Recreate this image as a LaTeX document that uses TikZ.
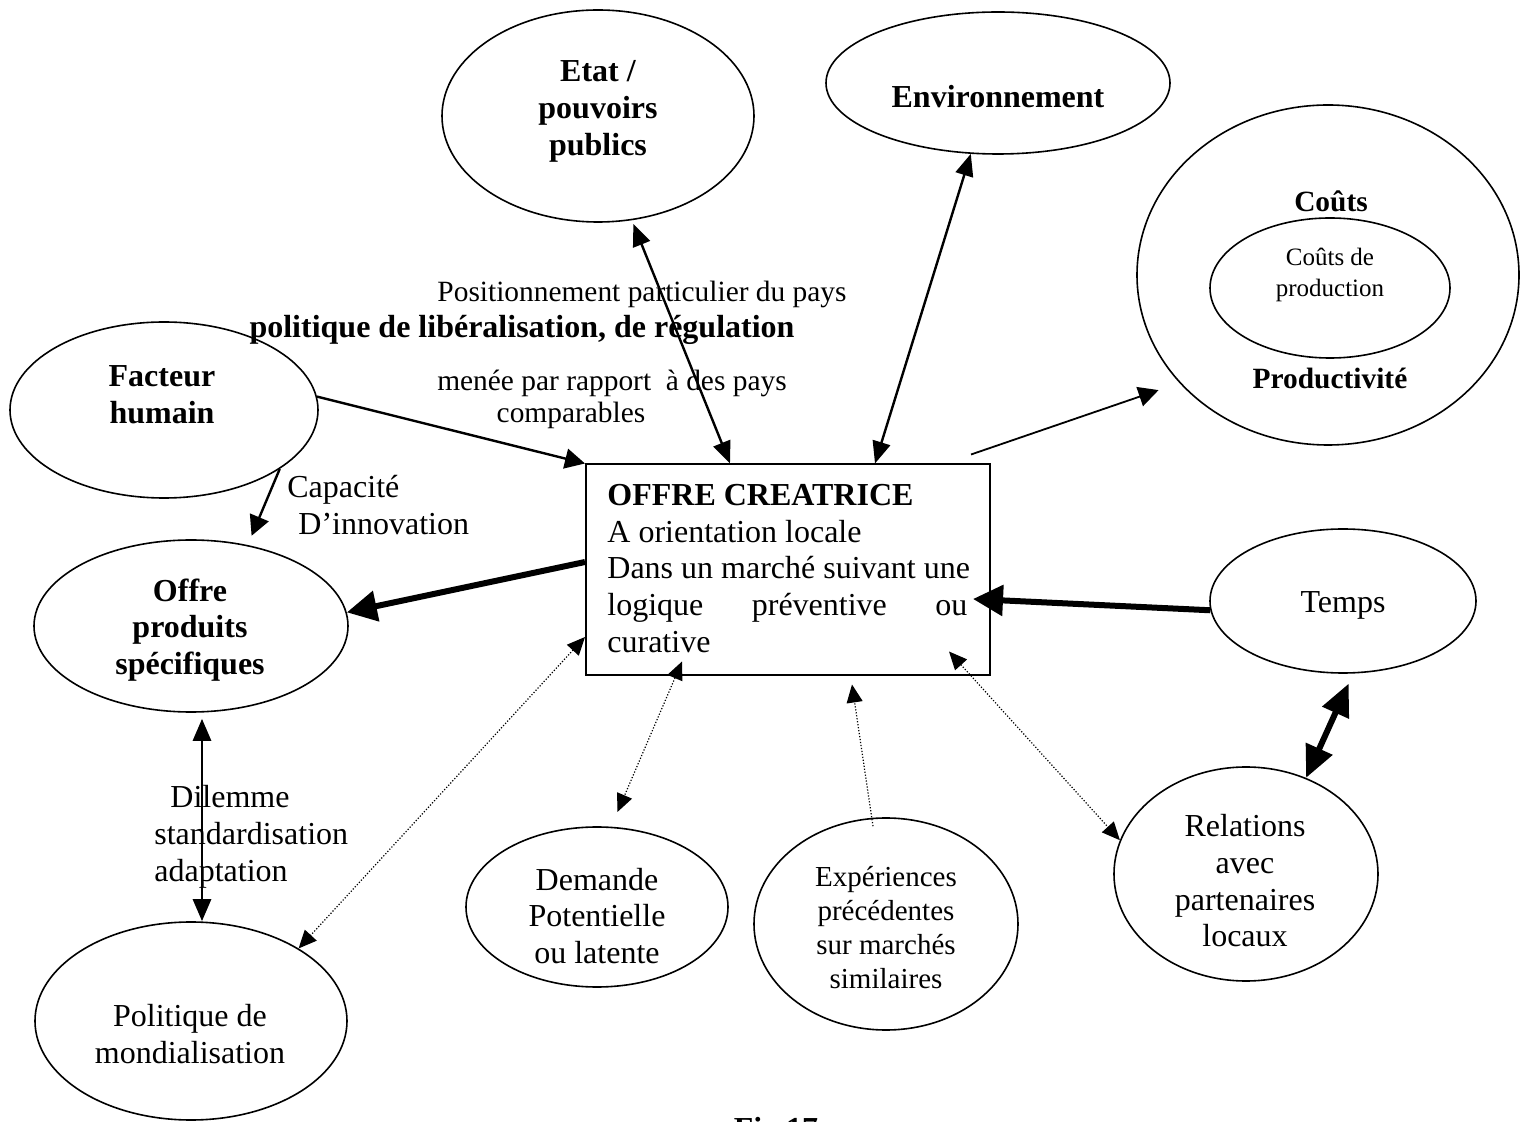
\documentclass[tikz,border=0pt]{standalone}
\usepackage{fontspec}
\setmainfont{Liberation Serif}
\usetikzlibrary{shapes.geometric,arrows.meta}

\begin{document}
\begin{tikzpicture}[x=0.5pt,y=-0.5pt,
  txt/.style={font=\fontsize{16}{18.35}\selectfont, inner sep=0pt, align=center},
  bold/.style={txt, font=\fontsize{16}{18.35}\selectfont\bfseries},
  note/.style={txt, font=\fontsize{14.7}{17}\selectfont},
  boldnote/.style={txt, font=\fontsize{14.7}{17}\selectfont\bfseries},
  small/.style={txt, font=\fontsize{12.5}{15.5}\selectfont},
  mid/.style={txt, font=\fontsize{14.5}{17}\selectfont},
  oval/.style={draw, ellipse, line width=0.8pt, inner sep=0pt},
  frame/.style={draw, rectangle, line width=1pt, inner sep=0pt},
  link/.style={line width=1.2pt, -{Triangle[length=10pt,width=10pt]}},
  twoway/.style={line width=1.2pt, {Triangle[length=11pt,width=9pt]}-{Triangle[length=11pt,width=9pt]}},
  fine/.style={line width=0.9pt, -{Triangle[length=10pt,width=10pt]}},
  heavy/.style={line width=3pt, -{Triangle[length=15pt,width=15pt]}},
  heavytwo/.style={line width=3pt, {Triangle[length=16pt,width=14pt]}-{Triangle[length=16pt,width=14pt]}},
  dotone/.style={line width=0.6pt, dash pattern=on 0.6pt off 0.9pt, -{Triangle[length=9pt,width=8pt]}},
  dottwo/.style={line width=0.6pt, dash pattern=on 0.6pt off 0.9pt, {Triangle[length=9pt,width=8pt]}-{Triangle[length=9pt,width=8pt]}}
]
\fill[white] (0,0) rectangle (1522,1122);
\useasboundingbox (0,0) rectangle (1522,1122);

% central box
\node[frame, minimum width=202pt, minimum height=105.5pt] (box) at (788,570) {};
\node[txt, anchor=north west, align=left] (boxtext) at (607,484)
  {\textbf{OFFRE CREATRICE}\\A orientation locale\\Dans un marché suivant une\\
   \makebox[180pt]{logique\hfill préventive\hfill ou}\\curative};

% surrounding ovals
\node[oval, minimum width=156pt, minimum height=106pt] (etat) at (598,116) {};
\node[bold] (etat-t) at (598,111.5) {Etat /\\pouvoirs\\publics};

\node[oval, minimum width=172pt, minimum height=71pt] (env) at (998,83) {};
\node[bold] (env-t) at (998,97) {Environnement};

\node[oval, minimum width=191pt, minimum height=170pt] (couts) at (1328,275) {};
\node[oval, minimum width=120pt, minimum height=70pt] (prodcost) at (1330,288) {};
\node[boldnote] (couts-t) at (1331,201) {Coûts};
\node[small] (prodcost-t) at (1330,275) {Coûts de\\production};
\node[boldnote] (produ-t) at (1330,378) {Productivité};

\node[oval, minimum width=154pt, minimum height=88pt] (fh) at (164,410) {};
\node[bold] (fh-t) at (162,394.5) {Facteur\\humain};

\node[oval, minimum width=157pt, minimum height=86pt] (op) at (191,626) {};
\node[bold] (op-t) at (190,630) {Offre\\produits\\spécifiques};

\node[oval, minimum width=156pt, minimum height=99pt] (pm) at (191,1021) {};
\node[txt] (pm-t) at (190,1034) {Politique de\\mondialisation};

\node[oval, minimum width=131pt, minimum height=80pt] (dem) at (597,907) {};
\node[txt] (dem-t) at (597,916) {Demande\\Potentielle\\ou latente};

\node[oval, minimum width=132pt, minimum height=106pt] (exp) at (886,924) {};
\node[mid] (exp-t) at (886,927.5) {Expériences\\précédentes\\sur marchés\\similaires};

\node[oval, minimum width=132pt, minimum height=107pt] (rel) at (1246,874) {};
\node[txt] (rel-t) at (1245,881) {Relations\\avec\\partenaires\\locaux};

\node[oval, minimum width=133pt, minimum height=72pt] (temps) at (1343,601) {};
\node[txt] (temps-t) at (1343,605) {Temps};

% free labels
\node[note] (pos) at (642,294) {Positionnement particulier du pays};
\node[bold] (lib) at (522,330) {politique de libéralisation, de régulation};
\node[note] (menee) at (612,383) {menée par rapport\ \ à des pays};
\node[note] (comp) at (571,415) {comparables};
\node[txt, anchor=west, align=left] (capa) at (287,505) {Capacité\\\hspace{5.5pt}D’innovation};
\node[txt, anchor=west, align=left] (dil) at (154,837) {\hspace{8pt}Dilemme\\standardisation\\adaptation};
\node[bold, anchor=base] (fig) at (776,1139) {Fig 17};

% connectors
\draw[link] (fh.5) -- (box.north west);
\draw[link, shorten >=5pt] (fh.-27) -- (op.55);
\draw[heavy] ([yshift=4pt]box.west) -- (op.5);
\draw[twoway, shorten >=2pt] ([xshift=-29pt]box.north) -- (etat.-72);
\draw[twoway] ([xshift=43.5pt]box.north) -- (env.-111);
\draw[fine, shorten >=11pt] ([xshift=-10pt,yshift=4.5pt]box.north east) -- (couts.216);
\draw[heavy] (temps.184) -- ([xshift=-9pt,yshift=-14.5pt]box.east);
\draw[heavytwo, shorten >=5.5pt] (rel.58) -- (temps.-82);
\draw[twoway, line width=1.4pt] ([xshift=5.5pt,yshift=-3pt]op.south) -- ([xshift=5.5pt]pm.north);
\draw[dottwo] ([yshift=-33.5pt]box.west) -- (pm.34);
\draw[dottwo, shorten >=8pt] ([xshift=-53pt,yshift=7.5pt]box.south) -- (dem.80);
\draw[dotone] ([xshift=-6.5pt,yshift=-4.5pt]exp.north) -- ([xshift=32pt,yshift=-4pt]box.south);
\draw[dottwo] ([xshift=-21pt,yshift=12.5pt]box.south east) -- (rel.165);
\end{tikzpicture}
\end{document}
